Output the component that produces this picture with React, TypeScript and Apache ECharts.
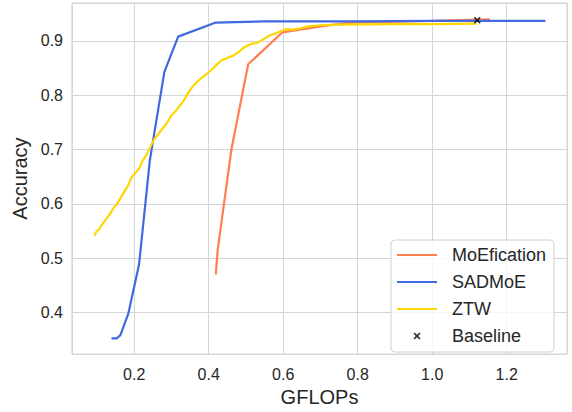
import React, { useEffect, useRef } from "react";
import * as echarts from "echarts";

// GFLOPs vs. accuracy for each early-exit / sparsification method
const moeficationPts: [number, number][] = [
  [0.419, 0.47], [0.424, 0.514], [0.461, 0.70], [0.506, 0.857], [0.598, 0.916],
  [0.701, 0.927], [0.78, 0.934], [1.0, 0.937], [1.155, 0.940],
];

const sadmoePts: [number, number][] = [
  [0.139, 0.352], [0.153, 0.352], [0.163, 0.358], [0.184, 0.397], [0.213, 0.488],
  [0.242, 0.68], [0.281, 0.843], [0.318, 0.908], [0.419, 0.934], [0.55, 0.936],
  [0.8, 0.936], [1.0, 0.937], [1.304, 0.937],
];

const ztwPts: [number, number][] = [
  [0.093, 0.541], [0.099, 0.549], [0.106, 0.553], [0.115, 0.563], [0.126, 0.573],
  [0.137, 0.583], [0.144, 0.592], [0.153, 0.599], [0.163, 0.61], [0.173, 0.622],
  [0.184, 0.634], [0.193, 0.649], [0.205, 0.658], [0.215, 0.667], [0.222, 0.679],
  [0.231, 0.688], [0.242, 0.703], [0.253, 0.718], [0.273, 0.736], [0.287, 0.748],
  [0.3, 0.763], [0.309, 0.769], [0.323, 0.781], [0.333, 0.79], [0.345, 0.805],
  [0.358, 0.817], [0.376, 0.829], [0.394, 0.839], [0.408, 0.847], [0.421, 0.856],
  [0.435, 0.865], [0.448, 0.868], [0.466, 0.873], [0.479, 0.879], [0.497, 0.889],
  [0.515, 0.895], [0.529, 0.896], [0.546, 0.903], [0.564, 0.91], [0.587, 0.916],
  [0.609, 0.922], [0.627, 0.921], [0.645, 0.923], [0.667, 0.927], [0.699, 0.929],
  [0.75, 0.93], [0.9, 0.931], [1.0, 0.931], [1.119, 0.932],
];

const baselinePts: [number, number][] = [[1.121, 0.938]];

const xRange = [0.033, 1.362];
const yRange = [0.323, 0.97];

const FONT = "'Liberation Sans', Arial, Helvetica, sans-serif";
const TEXT = "#262626";
const GRID = "#d5d5d5";

// filled "x" marker
const X_MARK =
  "path://M0,1.2L1.2,0L3.5,2.3L5.8,0L7,1.2L4.7,3.5L7,5.8L5.8,7L3.5,4.7L1.2,7L0,5.8L2.3,3.5Z";
// legend icons, padded to the 40x18 icon box
const X_LEGEND =
  "path://M0,0M40,18M16.5,6.7L17.7,5.5L20,7.8L22.3,5.5L23.5,6.7L21.2,9L23.5,11.3L22.3,12.5L20,10.2L17.7,12.5L16.5,11.3L18.8,9Z";
const LINE_LEGEND = "path://M0,0M40,18M0,7.9L40,7.9L40,10.1L0,10.1Z";

const isTick = (v: number, step: number) =>
  Math.abs(v / step - Math.round(v / step)) < 1e-6;

export default function App() {
  const ref = useRef<HTMLDivElement>(null);

  useEffect(() => {
    if (!ref.current) return;
    const chart = echarts.init(ref.current, undefined, { renderer: "svg" });
    const line = (name: string, color: string, data: [number, number][], z: number) => ({
      name,
      type: "line",
      data,
      symbol: "none",
      z,
      lineStyle: { color, width: 2.2 },
      itemStyle: { color },
    });
    chart.setOption({
      animation: false,
      backgroundColor: "#ffffff",
      textStyle: { fontFamily: FONT },
      grid: {
        left: 72,
        right: 5,
        top: 3,
        bottom: 50,
        show: true,
        borderColor: "#cccccc",
        borderWidth: 1,
      },
      xAxis: {
        type: "value",
        min: xRange[0],
        max: xRange[1],
        splitNumber: 7,
        name: "GFLOPs",
        nameLocation: "middle",
        nameGap: 29,
        nameTextStyle: { fontSize: 20, color: TEXT, fontFamily: FONT },
        axisLine: { show: false },
        axisTick: { show: false },
        splitLine: { lineStyle: { color: GRID, width: 1 } },
        axisLabel: {
          margin: 12,
          fontSize: 16,
          color: TEXT,
          fontFamily: FONT,
          showMinLabel: false,
          showMaxLabel: false,
          formatter: (v: number) => (isTick(v, 0.2) ? v.toFixed(1) : ""),
        },
      },
      yAxis: {
        type: "value",
        min: yRange[0],
        max: yRange[1],
        splitNumber: 6,
        name: "Accuracy",
        nameLocation: "middle",
        nameGap: 41,
        nameTextStyle: { fontSize: 20, color: TEXT, fontFamily: FONT },
        axisLine: { show: false },
        axisTick: { show: false },
        splitLine: { lineStyle: { color: GRID, width: 1 } },
        axisLabel: {
          margin: 9,
          fontSize: 16,
          color: TEXT,
          fontFamily: FONT,
          showMinLabel: false,
          showMaxLabel: false,
          formatter: (v: number) => (isTick(v, 0.1) ? v.toFixed(1) : ""),
        },
      },
      legend: {
        left: 391,
        top: 240,
        orient: "vertical",
        padding: [6, 8, 7, 6],
        itemGap: 9,
        itemWidth: 40,
        itemHeight: 18,
        backgroundColor: "rgba(255,255,255,0.8)",
        borderColor: "#d0d0d0",
        borderWidth: 1,
        borderRadius: 4,
        textStyle: { fontSize: 18, color: TEXT, fontFamily: FONT, padding: [0, 0, 0, 10] },
        data: [
          { name: "MoEfication", icon: LINE_LEGEND },
          { name: "SADMoE", icon: LINE_LEGEND },
          { name: "ZTW", icon: LINE_LEGEND },
          { name: "Baseline", icon: X_LEGEND, itemStyle: { color: "#000000" } },
        ],
      },
      series: [
        line("MoEfication", "#ff7f50", moeficationPts, 2),
        line("SADMoE", "#4169e1", sadmoePts, 3),
        line("ZTW", "#ffd700", ztwPts, 4),
        {
          name: "Baseline",
          type: "scatter",
          data: baselinePts,
          symbol: X_MARK,
          symbolSize: 7,
          z: 5,
          itemStyle: { color: "#000000" },
        },
      ],
    });
    return () => chart.dispose();
  }, []);

  return (
    <div
      ref={ref}
      style={{ position: "absolute", left: 0, top: 0, width: 572, height: 412 }}
    />
  );
}
